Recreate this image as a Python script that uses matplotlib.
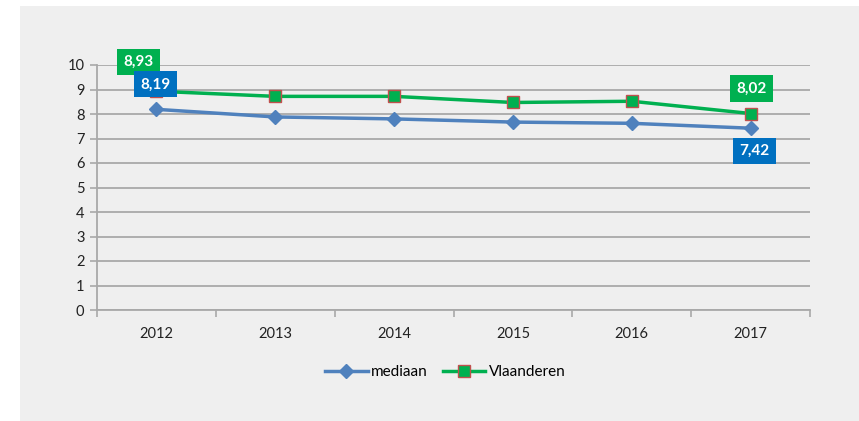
import matplotlib.pyplot as plt
from matplotlib.patches import Rectangle

plt.rcParams['font.family'] = ['Lato', 'DejaVu Sans']

years = ['2012', '2013', '2014', '2015', '2016', '2017']
mediaan = [8.19, 7.88, 7.80, 7.67, 7.62, 7.42]
vlaanderen = [8.93, 8.72, 8.72, 8.47, 8.52, 8.02]
yTicks = [0, 1, 2, 3, 4, 5, 6, 7, 8, 9, 10]

panelColor = '#efefef'
gridColor = '#a9a9a9'
blueLine = '#4f81bd'
greenLine = '#00b050'
blueBox = '#0070c0'


def addLabel(ax, x, y, text, boxColor, dx, dy):
    ax.annotate(text, xy=(x, y), xytext=(dx, dy), textcoords='offset pixels',
                ha='center', va='center', color='white', fontsize=11, fontweight='bold',
                bbox=dict(boxstyle='square,pad=0.4', fc=boxColor, ec='none'), zorder=5)


def main():
    fig = plt.figure(figsize=(8.59, 4.21), dpi=100)
    fig.patch.set_facecolor('white')
    fig.patches.append(Rectangle((20 / 859, 0), 1 - 20 / 859, 1 - 6 / 421,
                                 transform=fig.transFigure, fc=panelColor, ec='none', zorder=-10))

    ax = fig.add_axes([97 / 859, 1 - 310 / 421, (810 - 97) / 859, (310 - 65) / 421])
    ax.set_facecolor(panelColor)
    xs = list(range(len(years)))

    lineM, = ax.plot(xs, mediaan, color=blueLine, lw=2.5, marker='D', ms=7,
                     mfc=blueLine, mec=blueLine, zorder=3, label='mediaan')
    lineV, = ax.plot(xs, vlaanderen, color=greenLine, lw=2.5, marker='s', ms=8,
                     mfc=greenLine, mec='#c0504d', mew=1, zorder=3, label='Vlaanderen')

    ax.set_xlim(-0.5, len(years) - 0.5)
    ax.set_ylim(0, 10)
    ax.set_yticks(yTicks)
    ax.set_xticks(xs)
    ax.set_xticklabels(years)
    ax.set_xticks([i - 0.5 for i in range(len(years) + 1)], minor=True)
    ax.tick_params(axis='x', which='major', length=0, pad=12, labelsize=10.5, colors='#222222')
    ax.tick_params(axis='x', which='minor', length=5, width=1.2, color=gridColor)
    ax.tick_params(axis='y', length=5, width=1.2, color=gridColor, labelsize=10.5,
                   labelcolor='#222222', pad=4)
    ax.grid(axis='y', color=gridColor, lw=1.3)
    ax.set_axisbelow(True)
    for side in ['top', 'right']:
        ax.spines[side].set_visible(False)
    for side in ['left', 'bottom']:
        ax.spines[side].set_color(gridColor)
        ax.spines[side].set_linewidth(1.3)

    addLabel(ax, 0, vlaanderen[0], '8,93', greenLine, -18, 29)
    addLabel(ax, 0, mediaan[0], '8,19', blueBox, -1, 25)
    addLabel(ax, 5, vlaanderen[5], '8,02', greenLine, 1, 25)
    addLabel(ax, 5, mediaan[5], '7,42', blueBox, 4, -23)

    fig.legend(handles=[lineM, lineV], loc='center', bbox_to_anchor=(445 / 859, 1 - 372 / 421),
               ncol=2, frameon=False, fontsize=11, handlelength=2.8, columnspacing=1.0,
               handletextpad=0.2)

    fig.savefig('out.png', dpi=100)


if __name__ == '__main__':
    main()
